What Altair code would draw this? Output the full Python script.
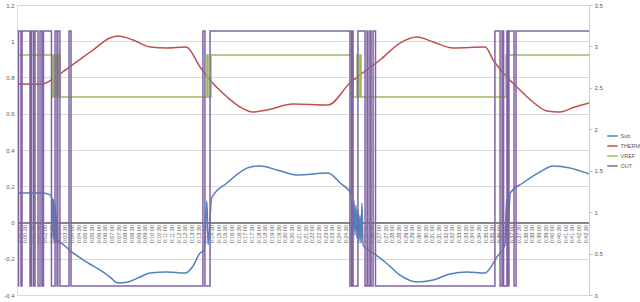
import altair as alt
import pandas as pd

series_names = ["Sub", "THERM", "VREF", "OUT"]
series_colors = ["#4F81BD", "#C0504D", "#9BBB59", "#8064A2"]

# Sub (left axis)
sub_t = [0, 112, 143, 152, 157, 159, 161, 164, 166, 168, 170, 173, 175, 179, 242, 314, 368, 413, 449, 494,
         548, 593, 670, 751, 787, 818, 836, 849, 854, 870, 939, 1043, 1088, 1164, 1254, 1394, 1448, 1501,
         1506, 1510, 1515, 1519, 1524, 1528, 1533, 1537, 1542, 1546, 1551, 1569, 1596, 1650, 1717, 1794,
         1866, 1942, 2019, 2100, 2153, 2189, 2196, 2200, 2213, 2270, 2347, 2405, 2482, 2567]
sub_v = [0.163, 0.163, 0.152, 0.135, -0.080, 0.130, -0.095, 0.110, -0.110, 0.090, -0.120, 0.040, -0.100, -0.102,
         -0.163, -0.223, -0.262, -0.301, -0.334, -0.328, -0.301, -0.279, -0.273, -0.279, -0.240, -0.168,
         -0.157, 0.119, -0.124, 0.135, 0.218, 0.306, 0.312, 0.290, 0.262, 0.273, 0.218, 0.152,
         -0.040, 0.124, -0.070, 0.097, -0.086, 0.069, -0.100, 0.040, -0.113, 0.108, -0.124, -0.146, -0.168,
         -0.218, -0.290, -0.328, -0.317, -0.284, -0.273, -0.279, -0.190, -0.124, 0.125, -0.100, 0.163,
         0.218, 0.279, 0.312, 0.301, 0.268]

# THERM (right axis)
therm_t = [0, 107, 166, 233, 337, 413, 449, 517, 594, 670, 751, 759, 818, 863, 940, 998, 1055, 1119, 1236,
           1394, 1492, 1537, 1627, 1717, 1794, 1866, 1956, 2100, 2136, 2198, 2243, 2315, 2378, 2436, 2503, 2567]
therm_v = [2.547, 2.544, 2.627, 2.755, 2.957, 3.102, 3.126, 3.078, 2.993, 2.981, 2.993, 2.990, 2.752, 2.595,
           2.390, 2.269, 2.209, 2.233, 2.305, 2.293, 2.559, 2.655, 2.836, 3.041, 3.114, 3.054, 2.981, 2.993,
           2.836, 2.631, 2.510, 2.329, 2.221, 2.209, 2.269, 2.317]

# VREF (right axis, stepped)
vref_t = [0, 152, 159, 166, 173, 179, 184, 188, 849, 854, 867, 1506, 1524, 1528, 1537, 1542, 2194, 2567]
vref_v = [2.897, 2.390, 2.897, 2.390, 2.897, 2.390, 2.897, 2.390, 2.897, 2.390, 2.897, 2.390, 2.897, 2.390,
          2.897, 2.390, 2.897, 2.897]

# OUT (right axis, stepped)
out_t = [0, 2, 13, 17.5, 53.5, 60, 69, 76, 89.6, 98.6, 107.5, 114, 150, 166, 175, 178.5, 188, 229, 238,
         831, 840, 863, 1492, 1499.5, 1506, 1528, 1560, 1569, 1573, 1582, 1587, 1596, 1607,
         2144, 2167, 2176, 2183, 2198, 2203, 2207, 2230, 2239, 2567]
out_v = [0.109, 3.186, 0.109, 3.186, 0.109, 3.186, 0.109, 3.186, 0.109, 3.186, 0.109, 3.186, 0.109, 3.186,
         0.109, 3.186, 0.109, 3.186, 0.109, 3.186, 0.109, 3.186, 0.109, 3.186, 0.109, 3.186, 0.109, 3.186,
         0.109, 3.186, 0.109, 3.186, 0.109, 3.186, 0.109, 3.186, 0.109, 3.186, 0.109, 3.186, 0.109, 3.186, 3.186]

left_ticks = [-0.4, -0.2, 0, 0.2, 0.4, 0.6, 0.8, 1, 1.2]
right_ticks = [0, 0.5, 1, 1.5, 2, 2.5, 3, 3.5]
x_ticks = list(range(0, 2551, 30))
x_tick_labels = ["0:%02d:%02d" % (s // 60, s % 60) for s in x_ticks]

rows = []
for name, ts, vs in [("Sub", sub_t, sub_v), ("THERM", therm_t, therm_v),
                     ("VREF", vref_t, vref_v), ("OUT", out_t, out_v)]:
    for t, v in zip(ts, vs):
        rows.append({"series": name, "t": t, "v": v})
df = pd.DataFrame(rows)

FONT = "Liberation Sans"
TXT = "#595959"

label_expr = "[" + ",".join("'%s'" % s for s in x_tick_labels) + "][round(datum.value/30)]"
x_enc = alt.X("t:Q", scale=alt.Scale(domain=[-5, 2567], nice=False, zero=False),
              axis=alt.Axis(values=x_ticks, labelExpr=label_expr, labelAngle=270, labelFontSize=5.5,
                            labelColor=TXT, labelFont=FONT, labelPadding=2, ticks=False, grid=False,
                            domainColor="#868686", domainWidth=2, offset=-72.5, title=None,
                            labelOverlap=False))

yl = alt.Y("v:Q", scale=alt.Scale(domain=[-0.4, 1.2], nice=False, zero=False),
           axis=alt.Axis(orient="left", values=left_ticks, labelExpr="'' + datum.value", grid=True,
                         gridColor="#d9d9d9", gridWidth=1, domainColor="#d9d9d9", tickSize=0,
                         labelPadding=3, labelFontSize=6, labelColor=TXT, labelFont=FONT, title=None))
yr = alt.Y("v:Q", scale=alt.Scale(domain=[0, 3.5], nice=False, zero=False),
           axis=alt.Axis(orient="right", values=right_ticks, labelExpr="'' + datum.value", grid=False,
                         domainColor="#d0d0d0", tickColor="#bfbfbf", tickSize=3, labelPadding=2,
                         labelFontSize=6, labelColor=TXT, labelFont=FONT, title=None))

color = alt.Color("series:N", scale=alt.Scale(domain=series_names, range=series_colors),
                  legend=alt.Legend(title=None, orient="none", legendX=589.5, legendY=125,
                                    symbolType="stroke", symbolSize=110, symbolStrokeWidth=1.5,
                                    labelFontSize=5.5, labelColor=TXT, labelFont=FONT, rowPadding=-1,
                                    padding=0, labelOffset=2))

base = alt.Chart(df)
sub = base.transform_filter("datum.series == 'Sub'").mark_line(
    strokeWidth=1.5, interpolate="monotone").encode(x=x_enc, y=yl, color=color)
therm = base.transform_filter("datum.series == 'THERM'").mark_line(
    strokeWidth=1.5, interpolate="monotone").encode(x=x_enc, y=yr, color=color)
vref = base.transform_filter("datum.series == 'VREF'").mark_line(
    strokeWidth=1.5, interpolate="step-after").encode(x=x_enc, y=yr, color=color)
out = base.transform_filter("datum.series == 'OUT'").mark_line(
    strokeWidth=1.5, interpolate="step-after").encode(x=x_enc, y=yr, color=color)

right = alt.layer(therm, vref, out)
chart = alt.layer(sub, right).resolve_scale(y="independent").properties(
    width=572, height=290,
    padding={"left": 17, "top": 5, "right": 51, "bottom": 7},
    autosize=alt.AutoSizeParams(type="none"),
).configure_view(stroke=None).configure(background="white")

chart.save("out.html", embed_options={"renderer": "svg", "actions": False})
